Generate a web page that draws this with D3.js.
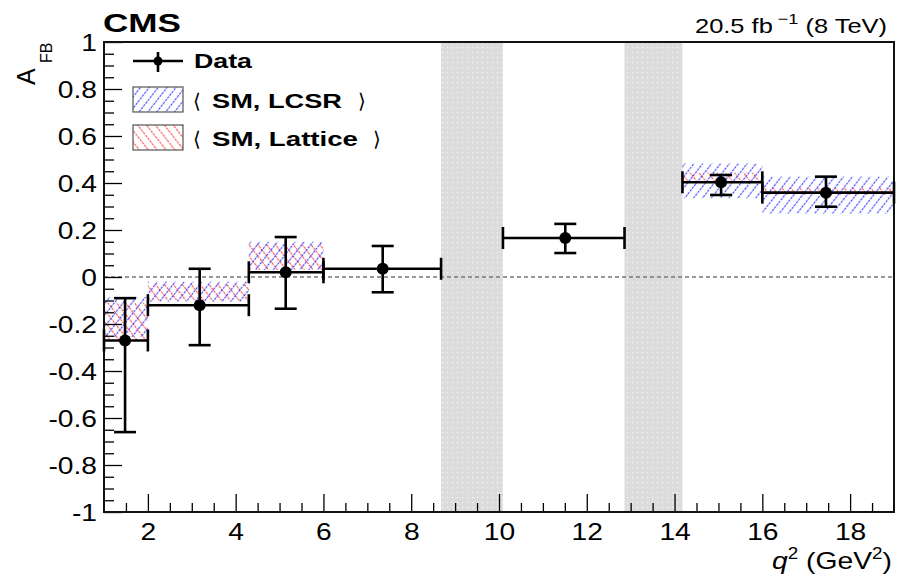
<!DOCTYPE html>
<html>
<head>
<meta charset="utf-8">
<script src="https://cdn.jsdelivr.net/npm/d3@7"></script>
<style>
  html, body { margin: 0; padding: 0; background: #fff; }
  svg { display: block; }
  text { font-family: "Liberation Sans", Arial, Helvetica, sans-serif; fill: #000; }
</style>
</head>
<body>
<svg id="chart" width="907" height="578"></svg>
<script>
// q^2 bins (GeV^2) of the measurement
const binLow  = [1, 2, 4.3, 6, 10.09, 14.18, 16];
const binHigh = [2, 4.3, 6, 8.68, 12.86, 16, 19];
// mean q^2 of the events in each bin
const binMean = [1.48, 3.18, 5.14, 7.35, 11.51, 15.06, 17.45];
// measured forward-backward asymmetry and its asymmetric uncertainties
const afbValue   = [-0.27, -0.12, 0.02, 0.035, 0.166, 0.403, 0.359];
const afbErrUp   = [0.18, 0.155, 0.15, 0.097, 0.06, 0.031, 0.068];
const afbErrDown = [0.39, 0.17, 0.155, 0.10, 0.064, 0.054, 0.06];

// SM predictions (LCSR form factors), per bin: low edge, high edge, band min, band max
const lcsrLow  = [1, 2, 4.3, 14.18, 16];
const lcsrHigh = [2, 4.3, 6, 16, 19];
const lcsrMin  = [-0.255, -0.105, 0.03, 0.335, 0.27];
const lcsrMax  = [-0.085, -0.02, 0.15, 0.483, 0.427];

// SM predictions (lattice form factors)
const latLow  = [1, 2, 4.3, 14.18, 16];
const latHigh = [2, 4.3, 6, 16, 19];
const latMin  = [-0.27, -0.10, 0.03, 0.41, 0.35];
const latMax  = [-0.11, -0.03, 0.14, 0.444, 0.38];

// vetoed charmonium regions (J/psi and psi')
const vetoLow  = [8.68, 12.86];
const vetoHigh = [10.09, 14.18];

// axis ticks
const xMajorTicks = [2, 4, 6, 8, 10, 12, 14, 16, 18];
const yMajorTicks = [-1, -0.8, -0.6, -0.4, -0.2, 0, 0.2, 0.4, 0.6, 0.8, 1];
const yTickLabels = ["-1", "-0.8", "-0.6", "-0.4", "-0.2", "0", "0.2", "0.4", "0.6", "0.8", "1"];

const svg = d3.select("#chart");
const padL = 104, padR = 894, padT = 42, padB = 512;
const x = d3.scaleLinear().domain([1, 19]).range([padL, padR]);
const y = d3.scaleLinear().domain([-1, 1]).range([padB, padT]);
const SX = 1.2; // horizontal stretch of the text glyphs

// patterns
const defs = svg.append("defs");
const dots = defs.append("pattern").attr("id", "vetoDots")
  .attr("patternUnits", "userSpaceOnUse").attr("width", 5).attr("height", 5);
dots.append("rect").attr("width", 5).attr("height", 5).attr("fill", "#dcdcdc");
dots.append("rect").attr("x", 2).attr("y", 2).attr("width", 1.2).attr("height", 1.2).attr("fill", "#f6f6f6");

function hatch(id, color, angle) {
  const p = defs.append("pattern").attr("id", id)
    .attr("patternUnits", "userSpaceOnUse").attr("width", 7).attr("height", 7)
    .attr("patternTransform", `rotate(${angle})`);
  p.append("line").attr("x1", 3.5).attr("x2", 3.5).attr("y1", 0).attr("y2", 7)
    .attr("stroke", color).attr("stroke-width", 1.2).attr("stroke-opacity", 0.8)
    .attr("stroke-dasharray", "2.6,0.9");
}
hatch("hatchBlue", "#1f1fff", 38);
hatch("hatchRed", "#ff2a2a", -38);

const clip = defs.append("clipPath").attr("id", "plotClip");
clip.append("rect").attr("x", padL).attr("y", padT).attr("width", padR - padL).attr("height", padB - padT);

// vetoed regions
svg.append("g").selectAll("rect").data(d3.range(vetoLow.length)).join("rect")
  .attr("x", i => x(vetoLow[i])).attr("width", i => x(vetoHigh[i]) - x(vetoLow[i]))
  .attr("y", padT).attr("height", padB - padT)
  .attr("fill", "url(#vetoDots)");

// zero line
svg.append("line").attr("x1", padL).attr("x2", padR).attr("y1", y(0)).attr("y2", y(0))
  .attr("stroke", "#777").attr("stroke-width", 1.3).attr("stroke-dasharray", "4,3");

// SM bands
const bands = svg.append("g").attr("clip-path", "url(#plotClip)");
bands.selectAll("rect.lat").data(d3.range(latLow.length)).join("rect").attr("class", "lat")
  .attr("x", i => x(latLow[i])).attr("width", i => x(latHigh[i]) - x(latLow[i]))
  .attr("y", i => y(latMax[i])).attr("height", i => y(latMin[i]) - y(latMax[i]))
  .attr("fill", "url(#hatchRed)");
bands.selectAll("rect.lcsr").data(d3.range(lcsrLow.length)).join("rect").attr("class", "lcsr")
  .attr("x", i => x(lcsrLow[i])).attr("width", i => x(lcsrHigh[i]) - x(lcsrLow[i]))
  .attr("y", i => y(lcsrMax[i])).attr("height", i => y(lcsrMin[i]) - y(lcsrMax[i]))
  .attr("fill", "url(#hatchBlue)");

// axes
const tickStyle = g => {
  g.select(".domain").remove();
  g.selectAll("line").attr("stroke", "#000").attr("stroke-width", 1.3);
};
svg.append("g").attr("transform", `translate(0,${padB})`)
  .call(d3.axisBottom(x).tickValues(d3.range(1.5, 19, 0.5).filter(v => v % 2 !== 0)).tickSize(-9).tickFormat(""))
  .call(tickStyle);
const xAx = svg.append("g").attr("transform", `translate(0,${padB})`)
  .call(d3.axisBottom(x).tickValues(xMajorTicks).tickSize(-18).tickPadding(0).tickFormat(d3.format("d")))
  .call(tickStyle);
xAx.selectAll("text").attr("font-size", 23.5).attr("y", 11).attr("dy", "0.71em")
  .attr("transform", `scale(${SX},1)`);

svg.append("g").attr("transform", `translate(${padL},0)`)
  .call(d3.axisLeft(y).tickValues(d3.range(-19, 20).map(v => v * 0.05).filter(v => Math.abs(v * 5 - Math.round(v * 5)) > 1e-6)).tickSize(-10).tickFormat(""))
  .call(tickStyle);
const yAx = svg.append("g").attr("transform", `translate(${padL},0)`)
  .call(d3.axisLeft(y).tickValues(yMajorTicks).tickSize(-18).tickFormat((d, i) => yTickLabels[i]))
  .call(tickStyle);
yAx.selectAll("text").attr("font-size", 23.5).attr("x", -7 / SX).attr("dy", "0.36em")
  .attr("transform", `scale(${SX},1)`);

// frame
svg.append("rect").attr("x", padL).attr("y", padT).attr("width", padR - padL).attr("height", padB - padT)
  .attr("fill", "none").attr("stroke", "#111").attr("stroke-width", 2);

// data: horizontal bin-width bars, vertical error bars, caps and markers
const data = svg.append("g").attr("stroke", "#000").attr("stroke-width", 2.6);
const idx = d3.range(binLow.length);
const cap = 11;
data.selectAll("line.h").data(idx).join("line").attr("class", "h")
  .attr("x1", i => x(binLow[i])).attr("x2", i => x(binHigh[i]))
  .attr("y1", i => y(afbValue[i])).attr("y2", i => y(afbValue[i]));
data.selectAll("line.v").data(idx).join("line").attr("class", "v")
  .attr("x1", i => x(binMean[i])).attr("x2", i => x(binMean[i]))
  .attr("y1", i => y(afbValue[i] + afbErrUp[i])).attr("y2", i => y(afbValue[i] - afbErrDown[i]));
data.selectAll("line.cu").data(idx).join("line").attr("class", "cu")
  .attr("x1", i => x(binMean[i]) - cap).attr("x2", i => x(binMean[i]) + cap)
  .attr("y1", i => y(afbValue[i] + afbErrUp[i])).attr("y2", i => y(afbValue[i] + afbErrUp[i]));
data.selectAll("line.cd").data(idx).join("line").attr("class", "cd")
  .attr("x1", i => x(binMean[i]) - cap).attr("x2", i => x(binMean[i]) + cap)
  .attr("y1", i => y(afbValue[i] - afbErrDown[i])).attr("y2", i => y(afbValue[i] - afbErrDown[i]));
data.selectAll("line.cl").data(idx).join("line").attr("class", "cl")
  .attr("x1", i => x(binLow[i])).attr("x2", i => x(binLow[i]))
  .attr("y1", i => y(afbValue[i]) - cap).attr("y2", i => y(afbValue[i]) + cap);
data.selectAll("line.cr").data(idx).join("line").attr("class", "cr")
  .attr("x1", i => x(binHigh[i])).attr("x2", i => x(binHigh[i]))
  .attr("y1", i => y(afbValue[i]) - cap).attr("y2", i => y(afbValue[i]) + cap);
data.selectAll("circle").data(idx).join("circle")
  .attr("cx", i => x(binMean[i])).attr("cy", i => y(afbValue[i])).attr("r", 6)
  .attr("fill", "#000").attr("stroke", "none");

// legend
const lg = svg.append("g");
lg.append("line").attr("x1", 133).attr("x2", 183).attr("y1", 61).attr("y2", 61).attr("stroke", "#000").attr("stroke-width", 2.6);
lg.append("line").attr("x1", 158).attr("x2", 158).attr("y1", 52).attr("y2", 72).attr("stroke", "#000").attr("stroke-width", 2.6);
lg.append("circle").attr("cx", 158).attr("cy", 61).attr("r", 4.5).attr("fill", "#000");
lg.append("text").attr("x", 194).attr("y", 68).attr("font-size", 20).attr("font-weight", "bold")
  .attr("textLength", 58).attr("lengthAdjust", "spacingAndGlyphs").text("Data");

const legendBands = [
  { fill: "url(#hatchBlue)", y0: 87, label: "SM, LCSR", w: 130, close: 358 },
  { fill: "url(#hatchRed)", y0: 125, label: "SM, Lattice", w: 146, close: 373 }
];
legendBands.forEach(b => {
  lg.append("rect").attr("x", 133).attr("y", b.y0).attr("width", 50).attr("height", 25)
    .attr("fill", b.fill).attr("stroke", "#555").attr("stroke-width", 1.2);
  const base = b.y0 + 21;
  lg.append("text").attr("x", 193).attr("y", base).attr("font-size", 20)
    .attr("font-family", "DejaVu Sans").text("\u27E8");
  lg.append("text").attr("x", 212).attr("y", base).attr("font-size", 20).attr("font-weight", "bold")
    .attr("textLength", b.w).attr("lengthAdjust", "spacingAndGlyphs").text(b.label);
  lg.append("text").attr("x", b.close).attr("y", base).attr("font-size", 20)
    .attr("font-family", "DejaVu Sans").text("\u27E9");
});

// header texts
svg.append("text").attr("x", 103).attr("y", 32).attr("font-size", 26).attr("font-weight", "bold")
  .attr("textLength", 78).attr("lengthAdjust", "spacingAndGlyphs").text("CMS");
const lumi = svg.append("text").attr("x", 887).attr("y", 33).attr("font-size", 21)
  .attr("text-anchor", "end").attr("textLength", 192).attr("lengthAdjust", "spacingAndGlyphs");
lumi.append("tspan").text("20.5 fb");
lumi.append("tspan").attr("font-size", 15).attr("dy", -9).attr("dx", 4).text("\u22121");
lumi.append("tspan").attr("dy", 9).text(" (8 TeV)");

// axis titles
const xt = svg.append("text").attr("x", 892).attr("y", 569).attr("font-size", 24)
  .attr("text-anchor", "end").attr("textLength", 120).attr("lengthAdjust", "spacingAndGlyphs");
xt.append("tspan").attr("font-style", "italic").text("q");
xt.append("tspan").attr("font-size", 16).attr("dy", -10).text("2");
xt.append("tspan").attr("dy", 10).text(" (GeV");
xt.append("tspan").attr("font-size", 16).attr("dy", -10).text("2");
xt.append("tspan").attr("dy", 10).text(")");

svg.append("text").attr("transform", "translate(35,85) rotate(-90)").attr("font-size", 25).text("A");
svg.append("text").attr("transform", "translate(52,63) rotate(-90)").attr("font-size", 16).text("FB");
</script>
</body>
</html>
